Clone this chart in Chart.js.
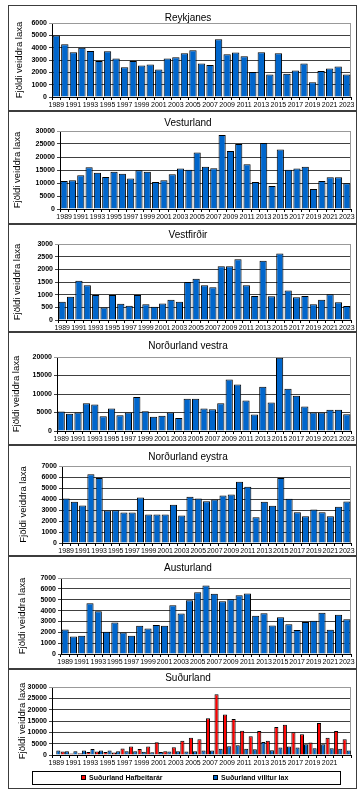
<!DOCTYPE html>
<html>
<head>
<meta charset="utf-8">
<script src="https://cdn.jsdelivr.net/npm/chart.js@4.4.0/dist/chart.umd.min.js"></script>
<style>
body{margin:0;background:#fff;width:362px;height:792px;position:relative;overflow:hidden}
.panel{position:absolute;left:8px;width:347px;border:1px solid #3c3c3c;background:#fff}
canvas{display:block}
</style>
</head>
<body>
<script>
const years = ['1989','1990','1991','1992','1993','1994','1995','1996','1997','1998',
  '1999','2000','2001','2002','2003','2004','2005','2006','2007','2008',
  '2009','2010','2011','2012','2013','2014','2015','2016','2017','2018',
  '2019','2020','2021','2022','2023'];

const reykjanes = [4980,4280,3620,4000,3730,2920,3700,3130,2420,2920,2560,2640,2230,3130,3220,3540,3790,2720,2590,4690,3460,3600,3300,2020,3620,1830,3540,1880,2150,2720,1200,2100,2320,2480,1830];
const vesturland = [10800,11070,13000,16090,13900,12350,14290,13510,11710,14930,14290,10420,11070,13380,15570,15060,21750,16220,15700,28440,22260,24970,17250,10420,25350,8880,22910,15060,15570,16220,7720,10810,12230,12230,9910];
const vestfirdir = [717,913,1552,1369,991,495,991,639,561,991,626,522,652,795,717,1499,1630,1369,1291,2125,2125,2399,1369,952,2334,939,2621,1160,900,952,626,795,1017,704,548];
const nvestra = [5270,4640,5000,7500,7140,4020,6070,4290,5000,9200,5360,3840,4110,5000,3480,8750,8750,6070,5890,7500,13930,12590,8210,4460,11960,7680,19820,11430,9550,6610,5000,5000,5710,5710,4550];
const neystra = [4050,3740,3410,6240,5900,2950,2980,2770,2770,4140,2590,2590,2590,3470,2500,4200,4050,3800,3960,4320,4410,5570,5110,2340,3740,3380,5900,4020,2800,2430,3040,2800,2430,3290,3770];
const austurland = [2260,1620,1680,4680,3940,2050,2910,1990,1680,2600,2350,2660,2600,4500,3730,4950,5690,6300,5540,4860,5050,5410,5570,3520,3760,2630,3390,2750,2200,2940,3060,3790,2230,3610,3210];
const sudurHafbeit = [null,1500,700,800,1300,1500,1300,1100,2900,3800,2600,3800,5600,1600,3400,6300,7600,7000,16200,26800,17900,15900,10700,8300,10600,6300,12300,13300,10000,9200,5500,14100,7600,10600,7000];
const sudurVilltur = [2000,1700,1600,2000,2600,2000,2000,1700,1600,1600,1400,1200,1300,1500,1600,1500,1600,2000,2000,2800,3900,4300,2800,2500,5700,2100,3300,3700,3300,4700,3000,4700,3000,2800,2000];

Chart.defaults.font.family = "'Liberation Sans', Arial, sans-serif";
Chart.defaults.color = '#000';

const panels = [
  {title:'Reykjanes', top:5, h:106, yw:43, tp:5, pt:17, pb:91, ty:12, max:6000, step:1000,
    sets:[{label:'Reykjanes', data:reykjanes, color:'#0066cc'}]},
  {title:'Vesturland', top:111, h:113, yw:51, tp:3, pt:19, pb:97, ty:11, max:30000, step:5000,
    sets:[{label:'Vesturland', data:vesturland, color:'#0066cc'}]},
  {title:'Vestfirðir', top:224, h:108, yw:49, tp:3, pt:19, pb:95, ty:10, max:3000, step:500,
    sets:[{label:'Vestfirðir', data:vestfirdir, color:'#0066cc'}]},
  {title:'Norðurland vestra', top:332, h:113, yw:48, tp:2, pt:24, pb:98, ty:13, max:20000, step:5000,
    sets:[{label:'Norðurland vestra', data:nvestra, color:'#0066cc'}]},
  {title:'Norðurland eystra', top:445, h:111, yw:53, tp:9, pt:20, pb:97, ty:11, max:7000, step:1000,
    sets:[{label:'Norðurland eystra', data:neystra, color:'#0066cc'}]},
  {title:'Austurland', top:556, h:113, yw:52, tp:8, pt:21, pb:97, ty:11, max:7000, step:1000,
    sets:[{label:'Austurland', data:austurland, color:'#0066cc'}]},
  {title:'Suðurland', top:669, h:120, yw:43, tp:8, pt:17, pb:85, ty:8, max:30000, step:5000, legend:true, skipLast:true,
    sets:[{label:'Suðurland Hafbeitarár', data:sudurHafbeit, color:'#ff0000'},
          {label:'Suðurland villtur lax', data:sudurVilltur, color:'#0066cc'}]}
];

// title, grey plot frame and the boxed legend
const frame = {
  id:'frame',
  beforeDatasetsDraw(chart, args, opts){
    const a = chart.chartArea, c = chart.ctx;
    c.save();
    c.strokeStyle = '#999'; c.lineWidth = 1;
    c.beginPath();
    c.moveTo(a.left, Math.round(a.top)+0.5);
    c.lineTo(Math.round(a.right)-0.5, Math.round(a.top)+0.5);
    c.lineTo(Math.round(a.right)-0.5, a.bottom);
    c.stroke();
    c.restore();
  },
  afterDraw(chart, args, opts){
    const c = chart.ctx;
    c.save();
    c.fillStyle = '#000';
    c.font = "10px 'Liberation Sans', Arial, sans-serif";
    c.textAlign = 'center'; c.textBaseline = 'middle';
    c.fillText(opts.text, 179, opts.y);
    if (opts.legend) {
      const top = chart.height - 17;
      c.strokeStyle = '#000'; c.lineWidth = 1;
      c.strokeRect(23.5, top+0.5, 308, 13);
      const xs = [72, 204];
      c.font = "bold 7px 'Liberation Sans', Arial, sans-serif";
      c.textAlign = 'left';
      chart.data.datasets.forEach(function(ds, i){
        c.fillStyle = ds.backgroundColor;
        c.fillRect(xs[i], top+4, 5, 5);
        c.strokeRect(xs[i]+0.5, top+4.5, 4, 4);
        c.fillStyle = '#000';
        c.fillText(ds.label, xs[i]+8, top+7);
      });
    }
    c.restore();
  }
};

panels.forEach(function(p){
  const div = document.createElement('div');
  div.className = 'panel';
  div.style.top = p.top + 'px';
  div.style.height = (p.h-2) + 'px';
  const cv = document.createElement('canvas');
  cv.width = 347; cv.height = p.h-2;
  div.appendChild(cv);
  document.body.appendChild(div);

  const xh = p.legend ? 14 : (cv.height - p.pb);

  new Chart(cv, {
    type:'bar',
    data:{
      labels: years,
      datasets: p.sets.map(function(s){
        return {label:s.label, data:s.data, backgroundColor:s.color, borderColor:'#000',
          borderWidth:1, barPercentage:1, categoryPercentage: p.sets.length > 1 ? 0.96 : 0.86};
      })
    },
    options:{
      responsive:false,
      animation:false,
      layout:{padding:{top:p.pt, right:5, bottom: p.legend ? (cv.height - p.pb - xh) : 0, left:0}},
      plugins:{
        legend:{display:false},
        title:{display:false},
        tooltip:{enabled:false},
        frame:{text:p.title, y:p.ty, legend:!!p.legend}
      },
      scales:{
        x:{
          grid:{display:true, drawOnChartArea:false, drawTicks:true, tickLength:3, color:'#000'},
          border:{color:'#000'},
          ticks:{autoSkip:false, maxRotation:0, minRotation:0, padding:1, font:{size:7},
            callback:function(v, i){
              if (i % 2 !== 0) return '';
              if (p.skipLast && i === years.length-1) return '';
              return this.getLabelForValue(v);
            }},
          afterFit:function(s){ s.height = xh; }
        },
        y:{
          min:0, max:p.max,
          grid:{tickLength:3, color:function(ctx){ return ctx.tick && ctx.tick.value === p.max ? '#999' : '#404040'; }},
          border:{color:'#000'},
          ticks:{stepSize:p.step, autoSkip:false, padding:2, font:{size:7, weight:'bold'},
            callback:function(v){ return String(v); }},
          title:{display:true, text:'Fjöldi veiddra laxa', font:{size:9.5}, padding:{top:p.tp, bottom:0}},
          afterFit:function(s){ s.width = p.yw; }
        }
      }
    },
    plugins:[frame]
  });
});
</script>
</body>
</html>
